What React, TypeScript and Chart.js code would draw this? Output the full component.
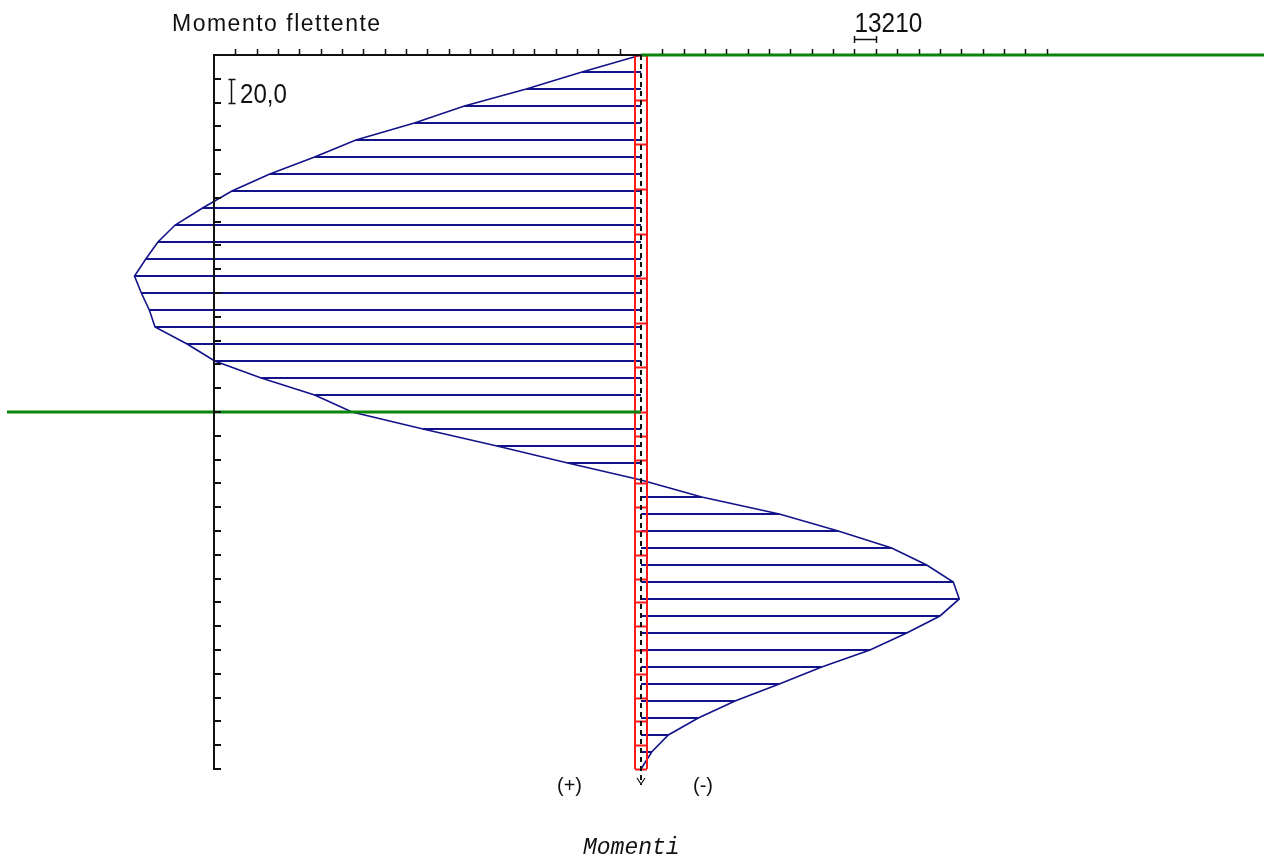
import React, { useEffect, useRef } from "react";
import { Chart, registerables } from "chart.js";

Chart.register(...registerables);

// Depth of each calculation node along the wall (cm from the head)
const NODE_DEPTHS = [
  0, 14.3, 28.6, 42.9, 57.1, 71.4, 85.7, 100, 114.3, 128.6, 142.9, 157.1, 171.4, 185.7, 200,
  214.3, 228.6, 242.9, 257.1, 271.4, 285.7, 300, 314.3, 328.6, 342.9, 357.1, 371.4, 385.7, 400,
  414.3, 428.6, 442.9, 457.1, 471.4, 485.7, 500, 514.3, 528.6, 542.9, 557.1, 571.4, 585.7, 600,
];

// Bending moment at each node (positive values plotted to the left)
const MOMENTS = [
  0, 36500, 70970, 109260, 140200, 176390, 201940, 229660, 253110, 271240, 288250,
  298890, 306380, 313370, 309160, 304210, 300690, 280830, 263750, 234980, 201940,
  178800, 134880, 89090, 45350, 0, -37550, -85570, -122070, -155110, -176760,
  -193220, -196930, -184990, -164390, -141680, -111800, -85570, -58160, -35450,
  -16890, -6620, 0,
];

// Wall element boundaries (cm)
const WALL_NODES = [
  0, 37.5, 75, 112.5, 150, 187.5, 225, 262.5, 300, 320, 340, 360, 380, 400, 420, 440, 460,
  480, 500, 520, 540, 560, 580, 600,
];

// Wall head and excavation levels (cm)
const HEAD_LEVEL = 0;
const DREDGE_LEVEL = 300;
const WALL_LENGTH = 600;

// Axis steps
const DEPTH_STEP = 20;
const MOMENT_STEP = 13210;
const MOMENT_TICKS_POS = 20;
const MOMENT_TICKS_NEG = 19;

// Texts
const TITLE = "Momento flettente";
const CAPTION = "Momenti";
const MOMENT_SCALE_LABEL = "13210";
const DEPTH_SCALE_LABEL = "20,0";
const SIGN_LABELS = ["(+)", "(-)"];

// Scale windows
const X_MIN = -385471;
const X_MAX = 396602;
const Y_MIN = -46.22;
const Y_MAX = 675.63;

const NAVY = "#12128a";
const RED = "#ff1a1a";
const GREEN = "#0a840a";

function drawText(
  ctx: CanvasRenderingContext2D,
  text: string,
  x: number,
  y: number,
  font: string,
  sx = 1,
  spacing = 0
) {
  ctx.save();
  ctx.translate(x, y);
  ctx.scale(sx, 1);
  ctx.font = font;
  (ctx as any).letterSpacing = spacing + "px";
  ctx.textAlign = "left";
  ctx.textBaseline = "alphabetic";
  ctx.fillStyle = "#111";
  ctx.fillText(text, 0, 0);
  ctx.restore();
}

const diagramPlugin = {
  id: "wallDiagram",
  afterDatasetsDraw(chart: any) {
    const ctx: CanvasRenderingContext2D = chart.ctx;
    const xs = chart.scales.x;
    const ys = chart.scales.y;
    const px = (v: number) => xs.getPixelForValue(v);
    const py = (d: number) => ys.getPixelForValue(d);
    const x0 = Math.round(px(0));
    const leftX = Math.round(px(MOMENT_TICKS_POS * MOMENT_STEP));
    const top = Math.round(py(HEAD_LEVEL));
    const bottom = Math.round(py(WALL_LENGTH));
    const W = chart.width;

    ctx.save();

    // wall outline with element boundaries
    ctx.strokeStyle = RED;
    ctx.lineWidth = 2;
    ctx.beginPath();
    ctx.moveTo(x0 - 6, top);
    ctx.lineTo(x0 - 6, bottom);
    ctx.moveTo(x0 + 6, top);
    ctx.lineTo(x0 + 6, bottom);
    for (const d of WALL_NODES) {
      const y = Math.round(py(d)) + 0.5;
      ctx.moveTo(x0 - 6, y);
      ctx.lineTo(x0 + 6, y);
    }
    ctx.stroke();

    // ground levels
    ctx.strokeStyle = GREEN;
    ctx.lineWidth = 3;
    ctx.beginPath();
    ctx.moveTo(x0, top);
    ctx.lineTo(W, top);
    const yd = Math.round(py(DREDGE_LEVEL));
    ctx.moveTo(7, yd);
    ctx.lineTo(x0, yd);
    ctx.stroke();

    // zero line of the diagram with arrow
    ctx.strokeStyle = "#111";
    ctx.lineWidth = 2;
    ctx.setLineDash([5, 4]);
    ctx.beginPath();
    ctx.moveTo(x0, top);
    ctx.lineTo(x0, bottom + 16);
    ctx.stroke();
    ctx.setLineDash([]);
    ctx.lineWidth = 1.2;
    ctx.beginPath();
    ctx.moveTo(x0 - 4, bottom + 9);
    ctx.lineTo(x0, bottom + 15);
    ctx.lineTo(x0 + 4, bottom + 9);
    ctx.stroke();

    // axes
    ctx.strokeStyle = "#111";
    ctx.lineWidth = 2;
    ctx.beginPath();
    ctx.moveTo(leftX, top);
    ctx.lineTo(x0, top);
    ctx.moveTo(leftX, top - 1);
    ctx.lineTo(leftX, bottom + 1);
    for (let d = DEPTH_STEP; d <= WALL_LENGTH; d += DEPTH_STEP) {
      const y = Math.round(py(d));
      ctx.moveTo(leftX, y);
      ctx.lineTo(leftX + 7, y);
    }
    ctx.stroke();
    ctx.lineWidth = 1.5;
    ctx.beginPath();
    for (let i = -MOMENT_TICKS_NEG; i < MOMENT_TICKS_POS; i++) {
      if (i === 0) continue;
      const x = Math.round(px(i * MOMENT_STEP)) + 0.5;
      ctx.moveTo(x, top - 1);
      ctx.lineTo(x, top - 6);
    }
    ctx.stroke();

    // scale markers
    const mx1 = Math.round(px(-10 * MOMENT_STEP)) + 0.5;
    const mx2 = Math.round(px(-11 * MOMENT_STEP)) + 0.5;
    ctx.lineWidth = 1.5;
    ctx.beginPath();
    ctx.moveTo(mx1, 39.5);
    ctx.lineTo(mx2, 39.5);
    ctx.moveTo(mx1, 36);
    ctx.lineTo(mx1, 43);
    ctx.moveTo(mx2, 36);
    ctx.lineTo(mx2, 43);
    const ix = leftX + 17.5;
    const iy1 = Math.round(py(DEPTH_STEP)) + 0.5;
    const iy2 = Math.round(py(2 * DEPTH_STEP)) + 0.5;
    ctx.moveTo(ix, iy1);
    ctx.lineTo(ix, iy2);
    ctx.moveTo(ix - 3, iy1);
    ctx.lineTo(ix + 4, iy1);
    ctx.moveTo(ix - 3, iy2);
    ctx.lineTo(ix + 4, iy2);
    ctx.stroke();

    // texts
    drawText(ctx, TITLE, 172, 31, "23px 'Liberation Sans'", 1, 1.5);
    drawText(ctx, MOMENT_SCALE_LABEL, mx1, 31.5, "28px 'Liberation Sans'", 0.87);
    drawText(ctx, DEPTH_SCALE_LABEL, leftX + 26, 103, "28px 'Liberation Sans'", 0.86);
    drawText(ctx, SIGN_LABELS[0], 557, 792, "20px 'Liberation Sans'");
    drawText(ctx, SIGN_LABELS[1], 693, 792, "20px 'Liberation Sans'");
    drawText(ctx, CAPTION, 583, 854, "italic 23px 'Liberation Mono'");

    ctx.restore();
  },
};

export default function App() {
  const canvasRef = useRef<HTMLCanvasElement | null>(null);

  useEffect(() => {
    const canvas = canvasRef.current;
    if (!canvas) return;

    const hatch: { x: number; y: number }[] = [];
    NODE_DEPTHS.forEach((d, i) => {
      hatch.push({ x: MOMENTS[i], y: d });
      hatch.push({ x: 0, y: d });
      hatch.push({ x: NaN, y: NaN });
    });
    const curve = NODE_DEPTHS.map((d, i) => ({ x: MOMENTS[i], y: d }));

    const chart = new Chart(canvas, {
      type: "scatter",
      data: {
        datasets: [
          {
            data: curve,
            showLine: true,
            borderColor: NAVY,
            borderWidth: 1.6,
            pointRadius: 0,
            tension: 0,
          },
          {
            data: hatch,
            showLine: true,
            borderColor: NAVY,
            borderWidth: 2,
            pointRadius: 0,
            spanGaps: false,
          },
        ],
      },
      options: {
        animation: false,
        responsive: false,
        events: [],
        layout: { padding: 0 },
        plugins: {
          legend: { display: false },
          tooltip: { enabled: false },
          title: { display: false },
        },
        scales: {
          x: { type: "linear", min: X_MIN, max: X_MAX, reverse: true, display: false },
          y: { type: "linear", min: Y_MIN, max: Y_MAX, reverse: true, display: false },
        },
      },
      plugins: [diagramPlugin],
    });

    return () => chart.destroy();
  }, []);

  return (
    <div style={{ position: "absolute", left: 0, top: 0, width: 1264, height: 859, background: "#fff" }}>
      <canvas ref={canvasRef} width={1264} height={859} style={{ display: "block" }} />
    </div>
  );
}
